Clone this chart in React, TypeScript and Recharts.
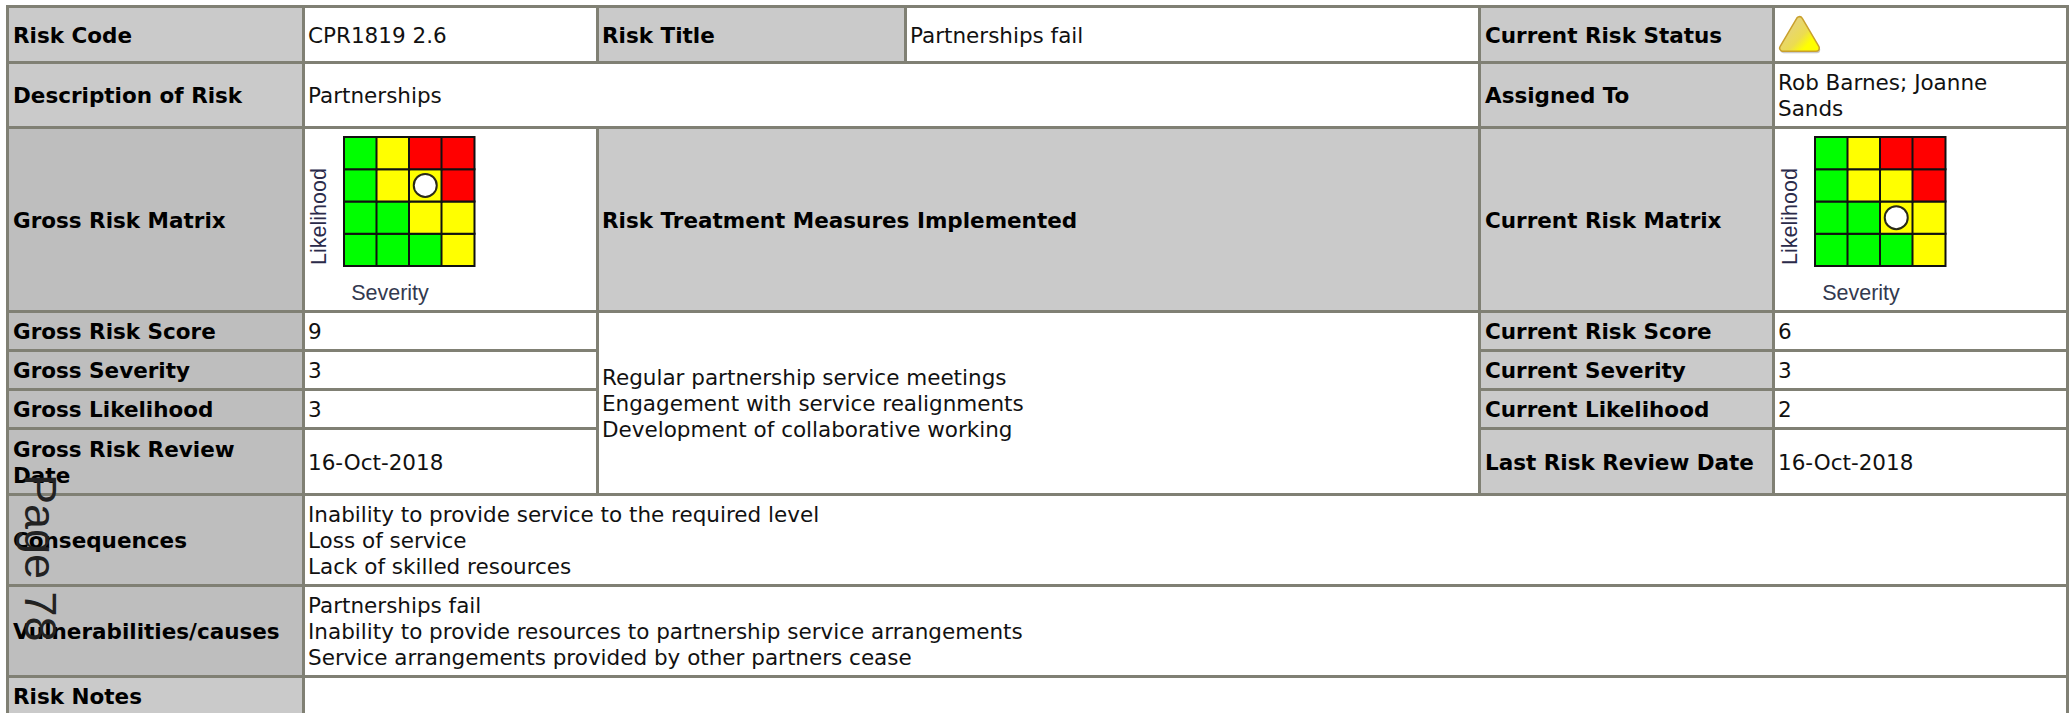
import React from 'react';
import { ComposedChart, Bar, Line, Cell, XAxis, YAxis } from 'recharts';

const FONT = '"DejaVu Sans", Verdana, sans-serif';
const BORDER = '3px solid #808074';
const HEAD = '#cacaca';
const HEAD_DARK = '#bebebe';

// matrix data
const severities = ['1', '2', '3', '4'];
const likelihoodBands = ['l1', 'l2', 'l3', 'l4'];
const bandHeight = [1, 1, 1, 1];
const G = '#00ff00';
const Y = '#ffff00';
const R = '#ff0000';
const l1Colours = [G, G, G, Y];
const l2Colours = [G, G, Y, Y];
const l3Colours = [G, Y, Y, R];
const l4Colours = [G, Y, R, R];
const bandColours = [l1Colours, l2Colours, l3Colours, l4Colours];

const grossSeverity = 3;
const grossLikelihood = 3;
const currentSeverity = 3;
const currentLikelihood = 2;

const treatmentLines = 'Regular partnership service meetings\nEngagement with service realignments\nDevelopment of collaborative working';
const consequenceLines = 'Inability to provide service to the required level\nLoss of service\nLack of skilled resources';
const causeLines = 'Partnerships fail\nInability to provide resources to partnership service arrangements\nService arrangements provided by other partners cease';

function buildRows(severity: number, likelihood: number) {
  return severities.map((s, i) => ({
    severity: s,
    l1: bandHeight[0],
    l2: bandHeight[1],
    l3: bandHeight[2],
    l4: bandHeight[3],
    marker: i + 1 === severity ? likelihood - 0.5 : null,
  }));
}

const LikelihoodLabel = ({ viewBox }: any) => {
  const cx = viewBox.x + viewBox.width / 2 - 5;
  const cy = viewBox.y + viewBox.height / 2 + 15;
  return (
    <text x={cx} y={cy} transform={`rotate(-90 ${cx} ${cy})`} textAnchor="middle" dominantBaseline="central"
      fontFamily="Liberation Sans" fontSize={21.5} fill="#2b2b4a">
      Likelihood
    </text>
  );
};

const SeverityLabel = ({ viewBox }: any) => {
  const cx = viewBox.x + viewBox.width / 2 - 19;
  const cy = viewBox.y + viewBox.height / 2 + 5;
  return (
    <text x={cx} y={cy} textAnchor="middle" dominantBaseline="central"
      fontFamily="Liberation Sans" fontSize={21.5} fill="#33394f">
      Severity
    </text>
  );
};

function RiskMatrix({ severity, likelihood }: { severity: number; likelihood: number }) {
  return (
    <ComposedChart width={292} height={180} data={buildRows(severity, likelihood)} barCategoryGap={0}
      margin={{ top: 8, right: 122, bottom: 0, left: 0 }}>
      <XAxis dataKey="severity" tick={false} axisLine={false} tickLine={false} height={43}
        label={<SeverityLabel />} />
      <YAxis type="number" domain={[0, 4]} tick={false} axisLine={false} tickLine={false} width={40}
        label={<LikelihoodLabel />} />
      {likelihoodBands.map((band, b) => (
        <Bar key={band} dataKey={band} stackId="matrix" stroke="#111" strokeWidth={2} isAnimationActive={false}>
          {severities.map((s, i) => <Cell key={s} fill={bandColours[b][i]} />)}
        </Bar>
      ))}
      <Line dataKey="marker" stroke="none" isAnimationActive={false} legendType="none"
        dot={{ r: 11.5, fill: '#fff', stroke: '#2a2a18', strokeWidth: 2 }} />
    </ComposedChart>
  );
}

function StatusIcon() {
  return (
    <svg width={50} height={44} style={{ display: 'block' }}>
      <defs>
        <linearGradient id="amber" gradientUnits="userSpaceOnUse" x1="6" y1="8" x2="36" y2="36">
          <stop offset="0" stopColor="#e3cf8c" />
          <stop offset="0.55" stopColor="#ecdc50" />
          <stop offset="0.8" stopColor="#ffff00" />
          <stop offset="1" stopColor="#ffff00" />
        </linearGradient>
      </defs>
      <polygon points="21.5,7 5,35 38,35" fill="#999" stroke="#999" strokeWidth={7} strokeLinejoin="round" opacity={0.5} transform="translate(0.7 0.7)" />
      <polygon points="21.5,6 5,34 38,34" fill="#c9a02c" stroke="#c9a02c" strokeWidth={8} strokeLinejoin="round" />
      <polygon points="21.5,6 5,34 38,34" fill="url(#amber)" stroke="url(#amber)" strokeWidth={5} strokeLinejoin="round" />
    </svg>
  );
}

const cell = (bg: string, bold: boolean, extra?: React.CSSProperties): React.CSSProperties => ({
  background: bg,
  border: BORDER,
  padding: bold ? '2px 3px 0 4px' : '2px 3px 0 3px',
  fontWeight: bold ? 700 : 400,
  color: bold ? '#000' : '#111',
  whiteSpace: 'pre-line',
  overflow: 'hidden',
  ...extra,
});

export default function App() {
  return (
    <div style={{ position: 'absolute', left: 0, top: 0, width: 2071, height: 713, overflow: 'hidden', background: '#fff', fontFamily: FONT, fontSize: 21.5, lineHeight: '26px' }}>
      <table style={{ position: 'absolute', left: 6, top: 5, width: 2063, borderCollapse: 'collapse', tableLayout: 'fixed' }}>
        <colgroup>
          <col style={{ width: 296 }} />
          <col style={{ width: 294 }} />
          <col style={{ width: 308 }} />
          <col style={{ width: 574 }} />
          <col style={{ width: 294 }} />
          <col style={{ width: 294 }} />
        </colgroup>
        <tbody>
          <tr style={{ height: 56 }}>
            <td style={cell(HEAD, true)}>Risk Code</td>
            <td style={cell('#fff', false)}>CPR1819 2.6</td>
            <td style={cell(HEAD, true, { paddingLeft: 3 })}>Risk Title</td>
            <td style={cell('#fff', false)}>Partnerships fail</td>
            <td style={cell(HEAD, true)}>Current Risk Status</td>
            <td style={cell('#fff', false)} />
          </tr>
          <tr style={{ height: 65 }}>
            <td style={cell(HEAD, true)}>Description of Risk</td>
            <td colSpan={3} style={cell('#fff', false)}>Partnerships</td>
            <td style={cell(HEAD, true)}>Assigned To</td>
            <td style={cell('#fff', false)}>{'Rob Barnes; Joanne\nSands'}</td>
          </tr>
          <tr style={{ height: 184 }}>
            <td style={cell(HEAD_DARK, true)}>Gross Risk Matrix</td>
            <td style={cell('#fff', false)} />
            <td colSpan={2} style={cell(HEAD, true, { paddingLeft: 3 })}>Risk Treatment Measures Implemented</td>
            <td style={cell(HEAD, true)}>Current Risk Matrix</td>
            <td style={cell('#fff', false)} />
          </tr>
          <tr style={{ height: 39 }}>
            <td style={cell(HEAD_DARK, true)}>Gross Risk Score</td>
            <td style={cell('#fff', false)}>9</td>
            <td colSpan={2} rowSpan={4} style={cell('#fff', false)}>{treatmentLines}</td>
            <td style={cell(HEAD, true)}>Current Risk Score</td>
            <td style={cell('#fff', false)}>6</td>
          </tr>
          <tr style={{ height: 39 }}>
            <td style={cell(HEAD_DARK, true)}>Gross Severity</td>
            <td style={cell('#fff', false)}>{grossSeverity}</td>
            <td style={cell(HEAD, true)}>Current Severity</td>
            <td style={cell('#fff', false)}>{currentSeverity}</td>
          </tr>
          <tr style={{ height: 39 }}>
            <td style={cell(HEAD_DARK, true)}>Gross Likelihood</td>
            <td style={cell('#fff', false)}>{grossLikelihood}</td>
            <td style={cell(HEAD, true)}>Current Likelihood</td>
            <td style={cell('#fff', false)}>{currentLikelihood}</td>
          </tr>
          <tr style={{ height: 66 }}>
            <td style={cell(HEAD_DARK, true)}>{'Gross Risk Review\nDate'}</td>
            <td style={cell('#fff', false)}>16-Oct-2018</td>
            <td style={cell(HEAD, true)}>Last Risk Review Date</td>
            <td style={cell('#fff', false)}>16-Oct-2018</td>
          </tr>
          <tr style={{ height: 91 }}>
            <td style={cell(HEAD_DARK, true)}>Consequences</td>
            <td colSpan={5} style={cell('#fff', false)}>{consequenceLines}</td>
          </tr>
          <tr style={{ height: 91 }}>
            <td style={cell(HEAD_DARK, true)}>Vulnerabilities/causes</td>
            <td colSpan={5} style={cell('#fff', false)}>{causeLines}</td>
          </tr>
          <tr style={{ height: 66 }}>
            <td style={{ ...cell(HEAD, true), verticalAlign: 'top', paddingTop: 6 }}>Risk Notes</td>
            <td colSpan={5} style={cell('#fff', false)} />
          </tr>
        </tbody>
      </table>

      <div style={{ position: 'absolute', left: 1778, top: 14 }}><StatusIcon /></div>
      <div style={{ position: 'absolute', left: 304, top: 129 }}><RiskMatrix severity={grossSeverity} likelihood={grossLikelihood} /></div>
      <div style={{ position: 'absolute', left: 1775, top: 129 }}><RiskMatrix severity={currentSeverity} likelihood={currentLikelihood} /></div>

      <div style={{ position: 'absolute', left: 18, top: 474, writingMode: 'vertical-rl', fontFamily: '"Liberation Sans"', fontSize: 45, lineHeight: '45px', color: '#222', whiteSpace: 'nowrap' }}>
        Page 78
      </div>
    </div>
  );
}
